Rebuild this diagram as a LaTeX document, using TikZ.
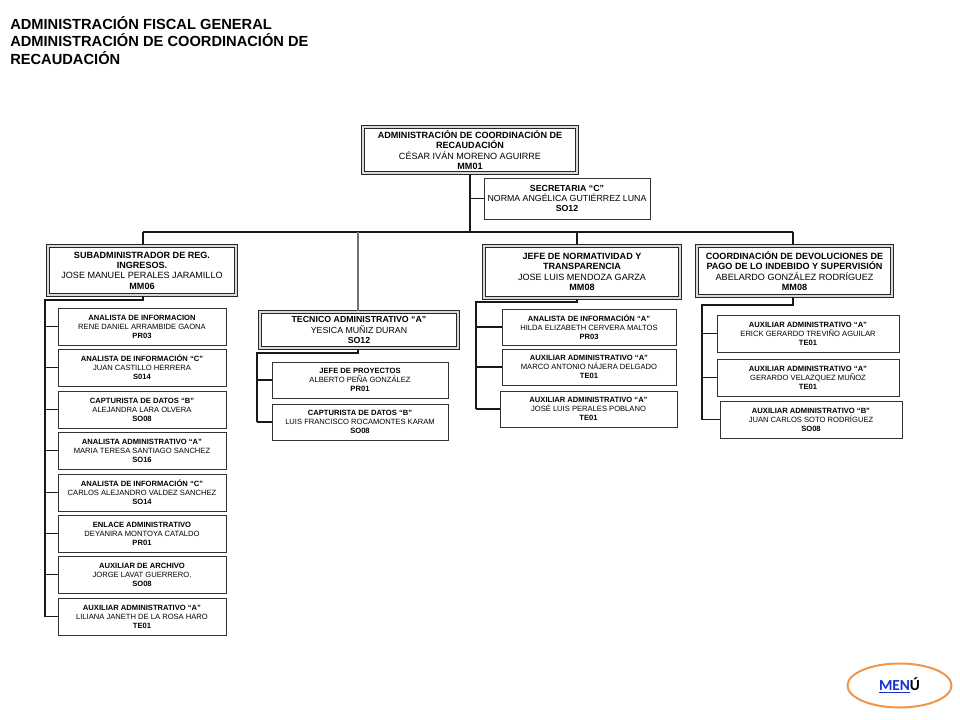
\documentclass[tikz,border=0pt]{standalone}
\usepackage{fontspec}
\setmainfont{Liberation Sans}
\newfontfamily\menufont{Carlito}
\usetikzlibrary{shapes.geometric}
\definecolor{linkblue}{RGB}{20,50,210}
\definecolor{menuorange}{RGB}{242,150,70}
\newcommand{\cardtxt}[3]{\textbf{#1}\\#2\\\textbf{#3}}
\tikzset{
  sbox/.style={draw=black!80, line width=0.6pt, fill=white, align=center, inner sep=1pt,
    font=\fontsize{5.7}{6.8}\selectfont},
  mbox/.style={draw=black!80, line width=0.6pt, fill=white, align=center, inner sep=1pt,
    font=\fontsize{6.6}{7.6}\selectfont},
  hbox/.style={draw=black!85, line width=0.8pt, double=gray!30, double distance=1pt,
    fill=white, align=center, inner sep=1pt, font=\fontsize{6.8}{7.7}\selectfont},
  conn/.style={line width=1pt, black!90},
}
\begin{document}
\begin{tikzpicture}[x=0.75pt,y=-0.75pt]
\path[use as bounding box] (0,0) rectangle (960,720);
% title
\node[anchor=north west, inner sep=0, align=left, font=\fontsize{11}{13.2}\selectfont\bfseries]
  (title) at (10,16) {ADMINISTRACIÓN FISCAL GENERAL\\ADMINISTRACIÓN DE COORDINACIÓN DE\\RECAUDACIÓN};
% heads
\node[hbox, minimum width=160.5pt, minimum height=34.5pt] (top) at (470,150)
  {\textbf{ADMINISTRACIÓN DE COORDINACIÓN DE}\\\textbf{RECAUDACIÓN}\\CÉSAR IVÁN MORENO AGUIRRE\\\textbf{MM01}};
\node[mbox, minimum width=124.5pt, minimum height=30.75pt] (sec) at (567,198.5)
  {\cardtxt{SECRETARIA “C”}{NORMA ANGÉLICA GUTIÉRREZ LUNA}{SO12}};
\node[hbox, minimum width=141pt, minimum height=36.75pt] (sub) at (142,270.5)
  {\textbf{SUBADMINISTRADOR DE REG.}\\\textbf{INGRESOS.}\\JOSE MANUEL PERALES JARAMILLO\\\textbf{MM06}};
\node[hbox, minimum width=148.5pt, minimum height=27pt, font=\fontsize{6.6}{8.2}\selectfont] (tec) at (359,330)
  {\cardtxt{TECNICO ADMINISTRATIVO “A”}{YESICA MUÑIZ DURAN}{SO12}};
\node[hbox, minimum width=147pt, minimum height=39pt] (jefe) at (582,272)
  {\textbf{JEFE  DE NORMATIVIDAD Y}\\\textbf{TRANSPARENCIA}\\JOSE LUIS MENDOZA GARZA\\\textbf{MM08}};
\node[hbox, minimum width=146.25pt, minimum height=37.5pt] (coord) at (794.5,271)
  {\textbf{COORDINACIÓN DE DEVOLUCIONES DE}\\\textbf{PAGO DE LO INDEBIDO Y SUPERVISIÓN}\\ABELARDO GONZÁLEZ RODRÍGUEZ\\\textbf{MM08}};
% left column
\tikzset{acol/.style={sbox, minimum width=126pt, minimum height=27.75pt}}
\node[acol] (a1) at (142,326.5) {\cardtxt{ANALISTA DE INFORMACION}{RENE DANIEL ARRAMBIDE GAONA}{PR03}};
\node[acol] (a2) at (142,367.5) {\cardtxt{ANALISTA DE INFORMACIÓN “C”}{JUAN CASTILLO HERRERA}{S014}};
\node[acol] (a3) at (142,409.5) {\cardtxt{CAPTURISTA DE DATOS “B”}{ALEJANDRA LARA OLVERA}{SO08}};
\node[acol] (a4) at (142,450.5) {\cardtxt{ANALISTA ADMINISTRATIVO “A”}{MARIA TERESA SANTIAGO SANCHEZ}{SO16}};
\node[acol] (a5) at (142,492.5) {\cardtxt{ANALISTA DE INFORMACIÓN “C”}{CARLOS ALEJANDRO VALDEZ SANCHEZ}{SO14}};
\node[acol] (a6) at (142,533.5) {\cardtxt{ENLACE ADMINISTRATIVO}{DEYANIRA MONTOYA CATALDO}{PR01}};
\node[acol] (a7) at (142,574.5) {\cardtxt{AUXILIAR DE ARCHIVO}{JORGE LAVAT GUERRERO.}{SO08}};
\node[acol] (a8) at (142,616.5) {\cardtxt{AUXILIAR ADMINISTRATIVO “A”}{LILIANA JANETH DE LA ROSA HARO}{TE01}};
% tec column
\tikzset{tcol/.style={sbox, minimum width=132pt, minimum height=27pt}}
\node[tcol] (t1) at (360,380) {\cardtxt{JEFE DE PROYECTOS}{ALBERTO PEÑA GONZÁLEZ}{PR01}};
\node[tcol] (t2) at (360,422) {\cardtxt{CAPTURISTA DE DATOS “B”}{LUIS FRANCISCO ROCAMONTES KARAM}{SO08}};
% jefe column
\tikzset{jcol/.style={sbox, minimum width=130.5pt, minimum height=27pt}}
\node[jcol] (j1) at (589,327) {\cardtxt{ANALISTA DE INFORMACIÓN “A”}{HILDA ELIZABETH CERVERA MALTOS}{PR03}};
\node[jcol] (j2) at (589,367) {\cardtxt{AUXILIAR ADMINISTRATIVO “A”}{MARCO ANTONIO NÁJERA DELGADO}{TE01}};
\node[jcol, minimum width=132.75pt] (j3) at (588.5,409) {\cardtxt{AUXILIAR ADMINISTRATIVO “A”}{JOSÉ LUIS PERALES POBLANO}{TE01}};
% coord column
\tikzset{ccol/.style={sbox, minimum width=136.5pt, minimum height=27.75pt}}
\node[ccol] (c1) at (808,333.5) {\cardtxt{AUXILIAR ADMINISTRATIVO “A”}{ERICK GERARDO TREVIÑO AGUILAR}{TE01}};
\node[ccol] (c2) at (808,377.5) {\cardtxt{AUXILIAR ADMINISTRATIVO “A”}{GERARDO VELAZQUEZ MUÑOZ}{TE01}};
\node[ccol] (c3) at (811,419.5) {\cardtxt{AUXILIAR ADMINISTRATIVO “B”}{JUAN CARLOS SOTO RODRÍGUEZ}{SO08}};
% connectors
\coordinate (bL) at (143,232);
\coordinate (bT) at (358,232);
\coordinate (bJ) at (577,232);
\coordinate (bC) at (793,232);
\draw[conn] (top.south) -- (top.south |- bL);
\draw[conn] (top.south |- sec.west) -- (sec.west);
\draw[conn] (bL) -- (bC);
\draw[conn] (bL) -- (bL |- sub.north);
\draw[conn, black!55] (bT) -- (bT |- tec.north);
\draw[conn] (bJ) -- (bJ |- jefe.north);
\draw[conn] (bC) -- (bC |- coord.north);
% sub children
\coordinate (sL) at (45,300);
\draw[conn] (bL |- sub.south) -- (bL |- sL) -- (sL) -- (sL |- a8.west);
\foreach \n in {a1,a2,a3,a4,a5,a6,a7,a8} \draw[conn] (sL |- \n.west) -- (\n.west);
% tec children
\coordinate (tL) at (257,353);
\draw[conn] (bT |- tec.south) -- (bT |- tL) -- (tL) -- (tL |- t2.west);
\foreach \n in {t1,t2} \draw[conn] (tL |- \n.west) -- (\n.west);
% jefe children
\coordinate (jL) at (476,302);
\draw[conn] (bJ |- jefe.south) -- (bJ |- jL) -- (jL) -- (jL |- j3.west);
\foreach \n in {j1,j2,j3} \draw[conn] (jL |- \n.west) -- (\n.west);
% coord children
\coordinate (cL) at (702,305);
\draw[conn] (bC |- coord.south) -- (bC |- cL) -- (cL) -- (cL |- c3.west);
\foreach \n in {c1,c2,c3} \draw[conn] (cL |- \n.west) -- (\n.west);
% menu
\node[ellipse, draw=menuorange, line width=1.5pt, minimum width=78pt, minimum height=33pt,
  inner sep=0, font=\menufont\bfseries\fontsize{11.5}{14}\selectfont] (menu) at (899.5,685.5)
  {\textcolor{linkblue}{\underline{MEN}}Ú};
\end{tikzpicture}
\end{document}
